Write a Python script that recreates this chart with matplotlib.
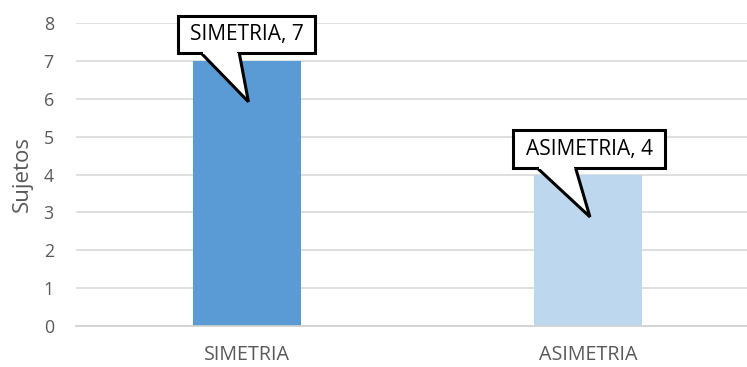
import matplotlib.pyplot as plt
from matplotlib.patches import Polygon, Rectangle

categories = ['SIMETRIA', 'ASIMETRIA']
sujetos = [7, 4]
bar_colors = ['#5B9BD5', '#BDD7EE']

plt.rcParams['font.family'] = ['Open Sans', 'DejaVu Sans']

fig = plt.figure(figsize=(7.47, 3.67), dpi=100)
ax = fig.add_axes([76 / 747, 41 / 367, 683 / 747, 303 / 367])

x = list(range(len(categories)))
ax.bar(x, sujetos, width=0.315, color=bar_colors, zorder=2)

ax.set_xlim(-0.5, 1.5)
ax.set_ylim(0, 8)
ax.set_yticks(range(0, 9))
ax.set_xticks(x)
ax.set_xticklabels(categories)
ax.yaxis.grid(True, color='#D9D9D9', linewidth=1.2, zorder=0)
ax.tick_params(axis='y', length=0, labelsize=12.8, colors='#595959', pad=16)
ax.tick_params(axis='x', length=0, labelsize=14.2, colors='#595959', pad=14)
ax.set_ylabel('Sujetos', fontsize=16, color='#595959', labelpad=8)
for side in ['top', 'right', 'left']:
    ax.spines[side].set_visible(False)
ax.spines['bottom'].set_color('#D0D0D0')
ax.spines['bottom'].set_linewidth(1.2)

# callout labels: box centre, half width/height, tail base (offsets from centre) and tip
callouts = [
    (0, 0.0, 7.70, 0.200, 0.49, -0.134, -0.022, 5.92),
    (1, 0.003, 4.67, 0.222, 0.50, -0.152, -0.040, 2.88),
]
for xi, dx, by, half_w, half_h, b0, b1, tip_y in callouts:
    label = f'{categories[xi]}, {sujetos[xi]}'
    cx = xi + dx
    bottom = by - half_h
    box = Rectangle((cx - half_w, bottom), 2 * half_w, 2 * half_h,
                    facecolor='white', edgecolor='black', linewidth=2.2,
                    zorder=4, clip_on=False)
    ax.add_patch(box)
    tail = Polygon([(cx + b0, bottom), (xi + 0.005, tip_y), (cx + b1, bottom)],
                   closed=False, facecolor='white', edgecolor='black',
                   linewidth=2.2, zorder=5, joinstyle='miter')
    ax.add_patch(tail)
    # hide the box edge under the tail opening
    ax.add_patch(Rectangle((cx + b0 + 0.006, bottom - 0.02), b1 - b0 - 0.012, 0.08,
                           facecolor='white', edgecolor='none', zorder=6))
    ax.text(cx, by, label, ha='center', va='center', fontsize=15,
            color='black', zorder=7)

fig.savefig('out.png', dpi=100)
